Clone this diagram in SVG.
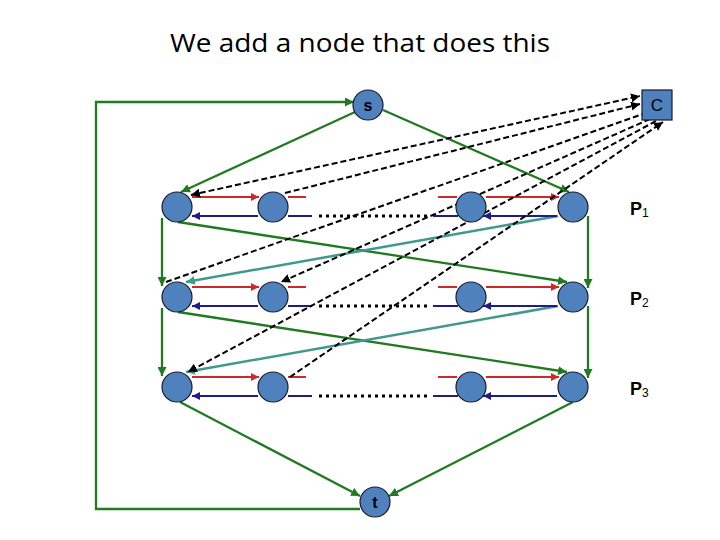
<svg xmlns="http://www.w3.org/2000/svg" width="720" height="540" viewBox="0 0 720 540">
<defs>
<style>
.node{fill:#4f81bd;stroke:#1a1a2e;stroke-width:1.2}
.g{stroke:#217a21;stroke-width:2.3;fill:none}
.tl{stroke:#3f9a8c;stroke-width:2.5;fill:none}
.r{stroke:#cc2a2a;stroke-width:2;fill:none}
.b{stroke:#1c1c8a;stroke-width:2;fill:none}
.d{stroke:#000;stroke-width:2;fill:none;stroke-dasharray:6 3}
.dot{stroke:#000;stroke-width:3;fill:none;stroke-dasharray:3 4}
.lbl{font-family:"Liberation Sans",Arial,sans-serif;font-weight:bold;fill:#000}
</style>
<marker id="ag" viewBox="0 0 10 10" refX="10" refY="5" markerWidth="9" markerHeight="9" markerUnits="userSpaceOnUse" orient="auto"><path d="M0,0 L10,5 L0,10 z" fill="#217a21"/></marker>
<marker id="at" viewBox="0 0 10 10" refX="10" refY="5" markerWidth="9" markerHeight="9" markerUnits="userSpaceOnUse" orient="auto"><path d="M0,0 L10,5 L0,10 z" fill="#3f9a8c"/></marker>
<marker id="ar" viewBox="0 0 10 10" refX="10" refY="5" markerWidth="8" markerHeight="8" markerUnits="userSpaceOnUse" orient="auto"><path d="M0,0 L10,5 L0,10 z" fill="#cc2a2a"/></marker>
<marker id="ab" viewBox="0 0 10 10" refX="10" refY="5" markerWidth="8" markerHeight="8" markerUnits="userSpaceOnUse" orient="auto"><path d="M0,0 L10,5 L0,10 z" fill="#1c1c8a"/></marker>
<marker id="ak" viewBox="0 0 10 10" refX="10" refY="5" markerWidth="9" markerHeight="9" markerUnits="userSpaceOnUse" orient="auto-start-reverse"><path d="M0,0 L10,5 L0,10 z" fill="#000"/></marker>
</defs>
<rect width="720" height="540" fill="#fff"/>
<text x="360" y="52" text-anchor="middle" font-family="'Open Sans','Liberation Sans',sans-serif" font-size="26" textLength="380" lengthAdjust="spacingAndGlyphs" fill="#000">We add a node that does this</text>

<g id="connectors">
<path class="g" d="M360,509 L96,509 L96,102 L354,102" marker-end="url(#ag)"/>
<line class="g" x1="355" y1="112" x2="181" y2="192" marker-end="url(#ag)"/>
<line class="g" x1="383" y1="110" x2="569" y2="192" marker-end="url(#ag)"/>
<line class="g" x1="162" y1="218" x2="162" y2="286" marker-end="url(#ag)"/>
<line class="g" x1="162" y1="308" x2="162" y2="376" marker-end="url(#ag)"/>
<line class="g" x1="588" y1="216" x2="588" y2="288" marker-end="url(#ag)"/>
<line class="g" x1="588" y1="306" x2="588" y2="378" marker-end="url(#ag)"/>
<line class="g" x1="178" y1="222" x2="567" y2="282" marker-end="url(#ag)"/>
<line class="g" x1="178" y1="312" x2="567" y2="372" marker-end="url(#ag)"/>
<line class="tl" x1="558" y1="216" x2="186" y2="282" marker-end="url(#at)"/>
<line class="tl" x1="558" y1="306" x2="186" y2="372" marker-end="url(#at)"/>
<line class="g" x1="180" y1="402" x2="360" y2="496" marker-end="url(#ag)"/>
<line class="g" x1="573" y1="402" x2="389" y2="496" marker-end="url(#ag)"/>

<g id="row1">
<line class="r" x1="192" y1="197" x2="259" y2="197" marker-end="url(#ar)"/>
<line class="b" x1="258" y1="216" x2="192" y2="216" marker-end="url(#ab)"/>
<line class="r" x1="288" y1="197" x2="306" y2="197"/>
<line class="b" x1="288" y1="216" x2="312" y2="216"/>
<line class="dot" x1="319" y1="216" x2="430" y2="216"/>
<line class="r" x1="438" y1="197" x2="457" y2="197"/>
<line class="b" x1="433" y1="216" x2="458" y2="216"/>
<line class="r" x1="486" y1="197" x2="559" y2="197" marker-end="url(#ar)"/>
<line class="b" x1="557" y1="216" x2="483" y2="216" marker-end="url(#ab)"/>
</g>
<g id="row2">
<line class="r" x1="192" y1="287" x2="259" y2="287" marker-end="url(#ar)"/>
<line class="b" x1="258" y1="306" x2="192" y2="306" marker-end="url(#ab)"/>
<line class="r" x1="288" y1="287" x2="306" y2="287"/>
<line class="b" x1="288" y1="306" x2="312" y2="306"/>
<line class="dot" x1="319" y1="306" x2="430" y2="306"/>
<line class="r" x1="438" y1="287" x2="457" y2="287"/>
<line class="b" x1="433" y1="306" x2="458" y2="306"/>
<line class="r" x1="486" y1="287" x2="559" y2="287" marker-end="url(#ar)"/>
<line class="b" x1="557" y1="306" x2="483" y2="306" marker-end="url(#ab)"/>
</g>
<g id="row3">
<line class="r" x1="192" y1="377" x2="259" y2="377" marker-end="url(#ar)"/>
<line class="b" x1="258" y1="396" x2="192" y2="396" marker-end="url(#ab)"/>
<line class="r" x1="288" y1="377" x2="306" y2="377"/>
<line class="b" x1="288" y1="396" x2="312" y2="396"/>
<line class="dot" x1="319" y1="396" x2="430" y2="396"/>
<line class="r" x1="438" y1="377" x2="457" y2="377"/>
<line class="b" x1="433" y1="396" x2="458" y2="396"/>
<line class="r" x1="486" y1="377" x2="559" y2="377" marker-end="url(#ar)"/>
<line class="b" x1="557" y1="396" x2="483" y2="396" marker-end="url(#ab)"/>
</g>

<g id="dashed">
<line class="d" x1="191" y1="195" x2="640" y2="96" marker-start="url(#ak)" marker-end="url(#ak)"/>
<line class="d" x1="285" y1="193" x2="640" y2="104" marker-end="url(#ak)"/>
<line class="d" x1="166" y1="282" x2="643" y2="114"/>
<line class="d" x1="650" y1="119" x2="281" y2="282" marker-end="url(#ak)"/>
<line class="d" x1="656" y1="121" x2="188" y2="372" marker-end="url(#ak)"/>
<line class="d" x1="290" y1="377" x2="663" y2="122" marker-end="url(#ak)"/>
</g>
</g>

<g id="s"><circle class="node" cx="368" cy="105" r="15"/><text class="lbl" x="368" y="111" font-size="16" text-anchor="middle">s</text></g>
<g id="t"><circle class="node" cx="375" cy="502" r="15"/><text class="lbl" x="375" y="508" font-size="16" text-anchor="middle">t</text></g>
<g id="C"><rect class="node" x="642" y="90" width="30" height="30"/><text x="657" y="111" font-family="'Liberation Sans',Arial,sans-serif" font-size="17" text-anchor="middle" fill="#000">C</text></g>

<g id="n11"><circle class="node" cx="177" cy="207" r="15"/></g>
<g id="n12"><circle class="node" cx="273" cy="207" r="15"/></g>
<g id="n13"><circle class="node" cx="471" cy="207" r="15"/></g>
<g id="n14"><circle class="node" cx="573" cy="207" r="15"/></g>
<g id="n21"><circle class="node" cx="177" cy="297" r="15"/></g>
<g id="n22"><circle class="node" cx="273" cy="297" r="15"/></g>
<g id="n23"><circle class="node" cx="471" cy="297" r="15"/></g>
<g id="n24"><circle class="node" cx="573" cy="297" r="15"/></g>
<g id="n31"><circle class="node" cx="177" cy="387" r="15"/></g>
<g id="n32"><circle class="node" cx="273" cy="387" r="15"/></g>
<g id="n33"><circle class="node" cx="471" cy="387" r="15"/></g>
<g id="n34"><circle class="node" cx="573" cy="387" r="15"/></g>

<g id="labels">
<text class="lbl" x="630" y="215" font-size="18">P<tspan font-size="12" font-weight="normal" dy="2">1</tspan></text>
<text class="lbl" x="630" y="305" font-size="18">P<tspan font-size="12" font-weight="normal" dy="2">2</tspan></text>
<text class="lbl" x="630" y="395" font-size="18">P<tspan font-size="12" font-weight="normal" dy="2">3</tspan></text>
</g>
</svg>
